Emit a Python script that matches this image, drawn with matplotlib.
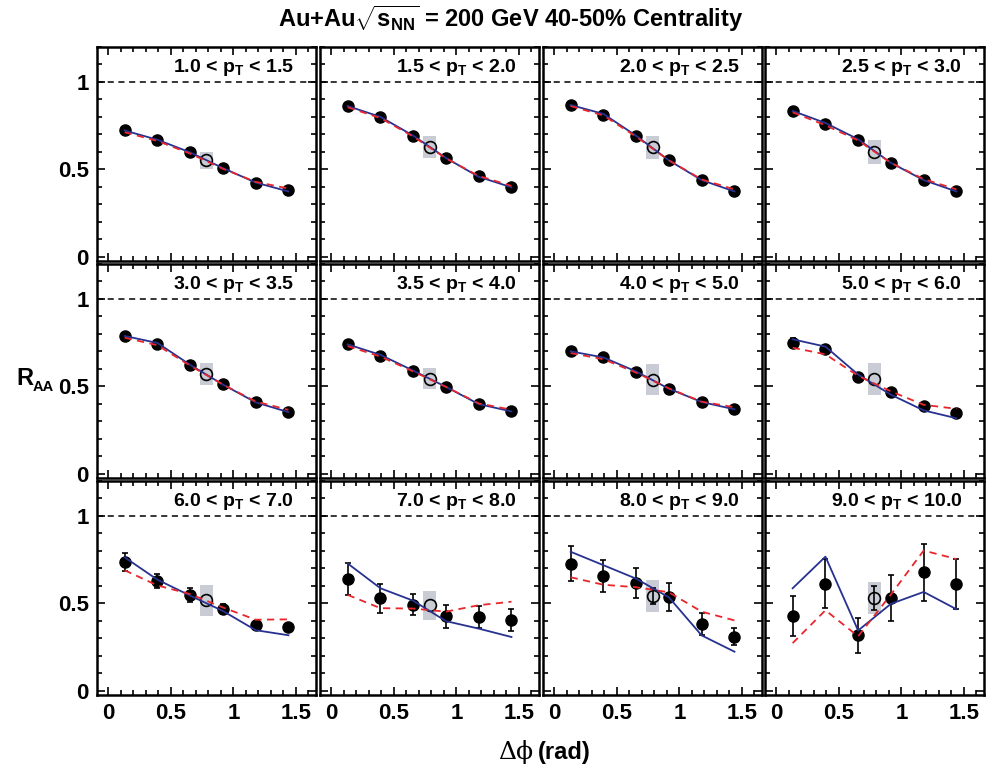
import matplotlib
matplotlib.use("Agg")
import matplotlib.pyplot as plt
from matplotlib.patches import Rectangle
from matplotlib.ticker import MultipleLocator

plt.rcParams['font.family'] = ['Liberation Sans', 'DejaVu Sans']
plt.rcParams['font.weight'] = 'bold'
plt.rcParams['mathtext.fontset'] = 'custom'
plt.rcParams['mathtext.rm'] = 'Liberation Sans:bold'
plt.rcParams['mathtext.bf'] = 'Liberation Sans:bold'
plt.rcParams['mathtext.it'] = 'Liberation Sans:bold'

# ---------------- data ----------------
pt_bins = ["1.0", "1.5", "2.0", "2.5", "3.0", "3.5", "4.0", "5.0",
           "6.0", "7.0", "8.0", "9.0", "10.0"]
dphi = [0.131, 0.393, 0.654, 0.916, 1.178, 1.440]
dphi_int = 0.785

raa = [
    [0.723, 0.669, 0.597, 0.507, 0.424, 0.379],
    [0.864, 0.801, 0.690, 0.564, 0.459, 0.400],
    [0.868, 0.813, 0.690, 0.551, 0.440, 0.375],
    [0.834, 0.759, 0.669, 0.537, 0.440, 0.377],
    [0.788, 0.744, 0.623, 0.512, 0.408, 0.354],
    [0.740, 0.676, 0.590, 0.497, 0.400, 0.358],
    [0.700, 0.665, 0.584, 0.486, 0.410, 0.370],
    [0.750, 0.712, 0.554, 0.467, 0.385, 0.346],
    [0.736, 0.627, 0.548, 0.468, 0.377, 0.363],
    [0.639, 0.528, 0.493, 0.425, 0.421, 0.406],
    [0.726, 0.656, 0.616, 0.536, 0.381, 0.309],
    [0.427, 0.612, 0.317, 0.530, 0.678, 0.612],
]
raa_err = [
    [0.005] * 6,
    [0.005] * 6,
    [0.005] * 6,
    [0.005] * 6,
    [0.005] * 6,
    [0.005] * 6,
    [0.008] * 6,
    [0.025, 0.020, 0.015, 0.015, 0.012, 0.012],
    [0.050, 0.040, 0.040, 0.030, 0.020, 0.020],
    [0.090, 0.083, 0.062, 0.067, 0.063, 0.063],
    [0.100, 0.094, 0.087, 0.078, 0.062, 0.050],
    [0.117, 0.140, 0.100, 0.133, 0.163, 0.143],
]
model_blue = [
    [0.722, 0.669, 0.597, 0.507, 0.424, 0.373],
    [0.862, 0.800, 0.693, 0.565, 0.457, 0.397],
    [0.868, 0.817, 0.692, 0.551, 0.438, 0.373],
    [0.834, 0.765, 0.672, 0.537, 0.438, 0.373],
    [0.788, 0.748, 0.623, 0.510, 0.408, 0.352],
    [0.740, 0.680, 0.590, 0.497, 0.398, 0.356],
    [0.700, 0.665, 0.585, 0.486, 0.410, 0.368],
    [0.769, 0.727, 0.567, 0.452, 0.362, 0.317],
    [0.763, 0.635, 0.544, 0.456, 0.346, 0.317],
    [0.728, 0.586, 0.515, 0.398, 0.355, 0.307],
    [0.795, 0.718, 0.641, 0.534, 0.316, 0.223],
    [0.586, 0.767, 0.344, 0.497, 0.565, 0.466],
]
model_red = [
    [0.712, 0.662, 0.590, 0.503, 0.428, 0.390],
    [0.855, 0.793, 0.688, 0.563, 0.462, 0.405],
    [0.862, 0.808, 0.687, 0.551, 0.442, 0.385],
    [0.826, 0.752, 0.665, 0.537, 0.444, 0.385],
    [0.778, 0.735, 0.618, 0.510, 0.413, 0.365],
    [0.730, 0.670, 0.585, 0.497, 0.402, 0.366],
    [0.690, 0.655, 0.578, 0.488, 0.412, 0.380],
    [0.721, 0.683, 0.560, 0.471, 0.394, 0.371],
    [0.689, 0.602, 0.553, 0.476, 0.406, 0.408],
    [0.548, 0.472, 0.470, 0.452, 0.489, 0.509],
    [0.649, 0.606, 0.592, 0.563, 0.452, 0.402],
    [0.272, 0.460, 0.311, 0.550, 0.802, 0.753],
]
raa_int = [0.551, 0.629, 0.625, 0.600, 0.571, 0.543, 0.538, 0.542,
           0.518, 0.489, 0.542, 0.530]
raa_int_err = [0.0] * 10 + [0.045, 0.070]
raa_int_sys = [0.050, 0.063, 0.064, 0.069, 0.064, 0.060, 0.087, 0.091,
               0.089, 0.084, 0.091, 0.092]

# ---------------- layout ----------------
W, H = 987, 774
fig = plt.figure(figsize=(W / 100, H / 100), dpi=100)

col_left = [97, 320, 543, 765]
row_top = [47, 264, 481]
pw, ph = 219, 214

blue = '#27318f'
red = '#e8262b'
grey = '#c9ccd4'

for i in range(12):
    r, c = divmod(i, 4)
    x0 = col_left[c] / W
    y0 = 1 - (row_top[r] + ph) / H
    ax = fig.add_axes([x0, y0, pw / W, ph / H])
    ax.set_xlim(-0.09, 1.66)
    ax.set_ylim(-0.025, 1.2)
    for s in ax.spines.values():
        s.set_linewidth(1.8)
    ax.xaxis.set_major_locator(MultipleLocator(0.5))
    ax.xaxis.set_minor_locator(MultipleLocator(0.1))
    ax.yaxis.set_major_locator(MultipleLocator(0.5))
    ax.yaxis.set_minor_locator(MultipleLocator(0.1))
    ax.tick_params(which='both', direction='in', top=True, right=True,
                   width=1.2, labelsize=16, pad=6)
    ax.tick_params(which='major', length=6)
    ax.tick_params(which='minor', length=3.5)
    if r < 2:
        ax.set_xticklabels([])
    else:
        ax.set_xticks([0, 0.5, 1, 1.5])
        ax.set_xticklabels(['0', '0.5', '1', '1.5'])
    if c > 0:
        ax.set_yticklabels([])
    else:
        ax.set_yticks([0, 0.5, 1])
        ax.set_yticklabels(['0', '0.5', '1'])

    ax.axhline(1.0, color='black', lw=1.1, ls=(0, (4, 3)), zorder=1)

    ax.add_patch(Rectangle((dphi_int - 0.05, raa_int[i] - raa_int_sys[i]),
                           0.10, 2 * raa_int_sys[i], facecolor=grey,
                           edgecolor='none', zorder=2))

    ax.errorbar(dphi, raa[i], yerr=raa_err[i], fmt='o', color='black',
                ms=8, elinewidth=1.2, capsize=2.5, capthick=1.2, zorder=3)
    if raa_int_err[i] > 0:
        ax.errorbar([dphi_int], [raa_int[i]], yerr=[raa_int_err[i]],
                    fmt='none', ecolor='black', elinewidth=1.2,
                    capsize=2.5, capthick=1.2, zorder=3)
    ax.plot([dphi_int], [raa_int[i]], 'o', mfc='none', mec='black',
            mew=1.2, ms=8.5, zorder=3.5)

    ax.plot(dphi, model_blue[i], color=blue, lw=1.3, zorder=4)
    ax.plot(dphi, model_red[i], color=red, lw=1.3, ls=(0, (4, 3)), zorder=4)

    lab = pt_bins[i] + r' < $\mathbf{p_{T}}$ < ' + pt_bins[i + 1]
    ax.text(0.9, 0.883, lab, transform=ax.transAxes, ha='right',
            va='baseline', fontsize=14, fontweight='bold')

fig.text(511 / W, 1 - 19 / H,
         r'Au+Au$\sqrt{\mathbf{s_{NN}}}$ = 200 GeV 40-50% Centrality',
         ha='center', va='center', fontsize=17, fontweight='bold')
fig.text(33 / W, 1 - 385 / H, 'R', ha='right', va='baseline',
         fontsize=17, fontweight='bold')
fig.text(33 / W, 1 - 391 / H, 'AA', ha='left', va='baseline',
         fontsize=10.5, fontweight='bold')
fig.text(533 / W, 1 - 752 / H, '\u0394\u03d5', ha='right', va='center',
         fontsize=18, family='DejaVu Serif', fontweight='normal')
fig.text(538 / W, 1 - 752 / H, '(rad)', ha='left', va='center',
         fontsize=17, fontweight='bold')

fig.savefig('out.png', dpi=100)
